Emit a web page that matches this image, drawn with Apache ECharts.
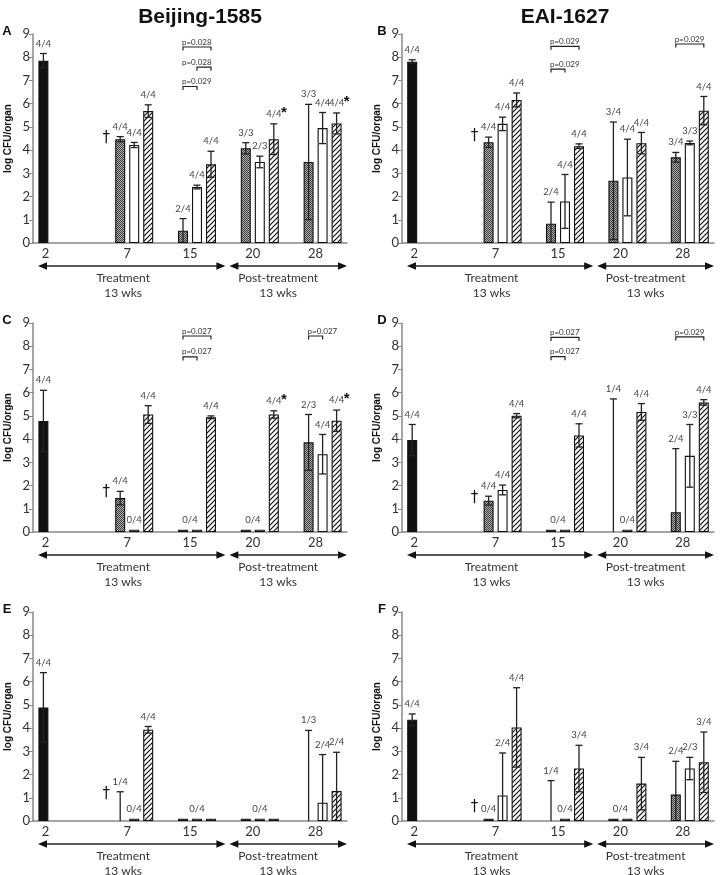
<!DOCTYPE html>
<html>
<head>
<meta charset="utf-8">
<script src="https://cdn.jsdelivr.net/npm/echarts@6/dist/echarts.min.js"></script>
<style>
  html, body { margin: 0; background: #fff; }
  #chart { width: 720px; height: 875px; }
</style>
</head>
<body>
<div id="chart"></div>
<script>
const weeks = ['2', '7', '15', '20', '28'];
const strainTitles = ['Beijing-1585', 'EAI-1627'];
const panelLetters = ['A', 'B', 'C', 'D', 'E', 'F'];
const groupNames = ['Pre-treatment', 'Regimen 1', 'Regimen 2', 'Regimen 3'];

// rows: black, cross-hatched, open, striped bars; columns follow weeks
// mean = bar height, top = upper end of the error bar
const meanA = [[7.85, null, null, null, null], [null, 4.47, 0.53, 4.08, 3.49], [null, 4.22, 2.41, 3.49, 4.95], [null, 5.68, 3.39, 4.47, 5.15]];
const topA  = [[8.16, null, null, null, null], [null, 4.58, 1.05, 4.32, 5.97], [null, 4.33, 2.49, 3.74, 5.62], [null, 5.95, 3.95, 5.13, 5.6]];
const fracA = [['4/4', '', '', '', ''], ['', '4/4', '2/4', '3/3', '3/3'], ['', '4/4', '4/4', '2/3', '4/4'], ['', '4/4', '4/4', '4/4', '4/4']];

const meanB = [[7.81, null, null, null, null], [null, 4.34, 0.83, 2.68, 3.69], [null, 5.13, 1.79, 2.82, 4.31], [null, 6.16, 4.17, 4.3, 5.7]];
const topB  = [[7.89, null, null, null, null], [null, 4.56, 1.76, 5.21, 3.9], [null, 5.42, 2.95, 4.47, 4.39], [null, 6.46, 4.27, 4.76, 6.31]];
const fracB = [['4/4', '', '', '', ''], ['', '4/4', '2/4', '3/4', '3/4'], ['', '4/4', '4/4', '4/4', '3/3'], ['', '4/4', '4/4', '4/4', '4/4']];

const meanC = [[4.78, null, null, null, null], [null, 1.46, 0.1, 0.1, 3.86], [null, 0.1, 0.1, 0.1, 3.35], [null, 5.06, 4.94, 5.06, 4.79]];
const topC  = [[6.1, null, null, null, null], [null, 1.75, null, null, 5.06], [null, null, null, null, 4.2], [null, 5.44, 5.0, 5.22, 5.25]];
const fracC = [['4/4', '', '', '', ''], ['', '4/4', '0/4', '0/4', '2/3'], ['', '0/4', '0/4', '0/4', '4/4'], ['', '4/4', '4/4', '4/4', '4/4']];

const meanD = [[3.96, null, null, null, null], [null, 1.35, 0.1, 0, 0.85], [null, 1.81, 0.1, 0.1, 3.28], [null, 5.01, 4.16, 5.17, 5.58]];
const topD  = [[4.63, null, null, null, null], [null, 1.54, null, 5.73, 3.59], [null, 2.02, null, null, 4.63], [null, 5.1, 4.66, 5.53, 5.7]];
const fracD = [['4/4', '', '', '', ''], ['', '4/4', '0/4', '1/4', '2/4'], ['', '4/4', '0/4', '0/4', '3/3'], ['', '4/4', '4/4', '4/4', '4/4']];

const meanE = [[4.89, null, null, null, null], [null, 0, 0.1, 0.1, 0], [null, 0.1, 0.1, 0.1, 0.79], [null, 3.93, 0.1, 0.1, 1.29]];
const topE  = [[6.39, null, null, null, null], [null, 1.26, null, null, 3.9], [null, null, null, null, 2.86], [null, 4.07, null, null, 2.96]];
const fracE = [['4/4', '', '', '', ''], ['', '1/4', '0/4', '0/4', '1/3'], ['', '0/4', '0/4', '0/4', '2/4'], ['', '4/4', '0/4', '0/4', '2/4']];

const meanF = [[4.36, null, null, null, null], [null, 0.1, 0, 0.1, 1.14], [null, 1.1, 0.1, 0.1, 2.26], [null, 4.03, 2.26, 1.61, 2.53]];
const topF  = [[4.61, null, null, null, null], [null, null, 1.74, null, 2.57], [null, 2.93, null, null, 2.74], [null, 5.74, 3.26, 2.74, 3.83]];
const fracF = [['4/4', '', '', '', ''], ['', '0/4', '1/4', '0/4', '2/4'], ['', '2/4', '0/4', '0/4', '2/3'], ['', '4/4', '3/4', '3/4', '3/4']];

// [week index, from bar, to bar, bracket height, text]
const bracketsA = [[2, 1, 3, 8.44, 'p=0.028'], [2, 2, 3, 7.57, 'p=0.028'], [2, 1, 2, 6.74, 'p=0.029']];
const bracketsB = [[2, 1, 3, 8.47, 'p=0.029'], [2, 1, 2, 7.49, 'p=0.029'], [4, 1, 3, 8.57, 'p=0.029']];
const bracketsC = [[2, 1, 3, 8.44, 'p=0.027'], [2, 1, 2, 7.54, 'p=0.027'], [4, 1, 2, 8.44, 'p=0.027']];
const bracketsD = [[2, 1, 3, 8.38, 'p=0.027'], [2, 1, 2, 7.55, 'p=0.027'], [4, 1, 3, 8.4, 'p=0.029']];

// asterisks: [week index, bar]
const starsA = [[3, 3], [4, 3]];
const starsC = [[3, 3], [4, 3]];

// dagger next to the week-7 cross-hatched bar, height per panel
const daggerY = [4.52, 4.6, 1.73, 1.45, 1.15, 0.6];

const panels = [
  { mean: meanA, top: topA, frac: fracA, br: bracketsA, stars: starsA },
  { mean: meanB, top: topB, frac: fracB, br: bracketsB, stars: [] },
  { mean: meanC, top: topC, frac: fracC, br: bracketsC, stars: starsC },
  { mean: meanD, top: topD, frac: fracD, br: bracketsD, stars: [] },
  { mean: meanE, top: topE, frac: fracE, br: [], stars: [] },
  { mean: meanF, top: topF, frac: fracF, br: [], stars: [] }
];

const OFFS = [-21, -7, 7, 21];
const colLeft = [33, 402], colWidth = [314, 312], rowTop = [34, 323, 612], gridH = 209;
const TXT = 'Lato';
const INK = '#222';

function hatchPattern() {
  const c = document.createElement('canvas');
  c.width = c.height = 5;
  const g = c.getContext('2d');
  g.fillStyle = '#fff';
  g.fillRect(0, 0, 5, 5);
  g.strokeStyle = '#111';
  g.lineWidth = 1.2;
  g.beginPath();
  g.moveTo(-1, 6); g.lineTo(6, -1);
  g.moveTo(-1, 1); g.lineTo(1, -1);
  g.moveTo(4, 6); g.lineTo(6, 4);
  g.stroke();
  return c;
}
function meshPattern() {
  const c = document.createElement('canvas');
  c.width = c.height = 2;
  const g = c.getContext('2d');
  g.fillStyle = '#b0b0b0';
  g.fillRect(0, 0, 2, 2);
  g.fillStyle = '#3c3c3c';
  g.fillRect(0, 0, 1, 1);
  g.fillRect(1, 1, 1, 1);
  return c;
}
const fills = ['#111', { image: meshPattern(), repeat: 'repeat' }, '#fff', { image: hatchPattern(), repeat: 'repeat' }];

function buildItems(p, pi) {
  const items = [];
  for (let s = 0; s < 4; s++) {
    for (let c = 0; c < 5; c++) {
      if (p.top[s][c] != null) items.push({ kind: 'err', c, s, mean: p.mean[s][c], top: p.top[s][c] });
    }
  }
  for (let c = 0; c < 5; c++) {
    let prevStub = null;
    for (let s = 0; s < 4; s++) {
      const t = p.frac[s][c];
      if (!t) { prevStub = null; continue; }
      const stub = p.top[s][c] == null && p.mean[s][c] != null && p.mean[s][c] <= 0.1;
      if (stub && prevStub && prevStub.text === t) { prevStub.ss.push(s); continue; }
      const lab = { kind: 'lab', c, ss: [s], text: t, v: p.top[s][c] != null ? p.top[s][c] : p.mean[s][c],
        star: p.stars.some(a => a[0] === c && a[1] === s) };
      items.push(lab);
      prevStub = stub ? lab : null;
    }
  }
  p.br.forEach(b => items.push({ kind: 'br', c: b[0], s1: b[1], s2: b[2], v: b[3], text: b[4] }));
  items.push({ kind: 'dag', c: 1, v: daggerY[pi] });
  items.push({ kind: 'decor', c: 0, v: 0 });
  return items;
}

function makeRender(items) {
  return function (params, api) {
    const it = items[params.dataIndex];
    const band = api.size([1, 0])[0];
    const cx = c => api.coord([c, 0])[0];
    const px = (c, s) => cx(c) + OFFS[s];
    const py = v => api.coord([0, v])[1];
    const ln = (x1, y1, x2, y2, w) => ({ type: 'line', shape: { x1, y1, x2, y2 }, style: { stroke: INK, lineWidth: w || 1.3 } });
    const tx = (x, y, text, o) => ({ type: 'text', x, y, style: Object.assign({ text, fill: '#333', fontFamily: TXT, fontSize: 12,
      align: 'center', textAlign: 'center', verticalAlign: 'middle', textVerticalAlign: 'middle' }, o || {}) });
    const ch = [];
    if (it.kind === 'err') {
      const x = px(it.c, it.s), yT = py(it.top);
      const lo = Math.max(0, 2 * it.mean - it.top), yB = py(lo);
      ch.push(ln(x, yB, x, yT), ln(x - 3.5, yT, x + 3.5, yT));
      if (it.mean > 0 && lo > 0.05) ch.push(ln(x - 3.5, yB, x + 3.5, yB));
    } else if (it.kind === 'lab') {
      const x = it.ss.reduce((a, s) => a + px(it.c, s), 0) / it.ss.length;
      const y = py(it.v) - 10;
      ch.push(tx(x, y, it.text, { fontSize: 9.5, fill: '#444' }));
      if (it.star) ch.push(tx(x + 10, y - 1, '*', { fontSize: 15, fontWeight: 'bold', fill: '#111', fontFamily: 'Liberation Sans' }));
    } else if (it.kind === 'br') {
      const x1 = px(it.c, it.s1), x2 = px(it.c, it.s2), y = py(it.v);
      ch.push({ type: 'polyline', shape: { points: [[x1, y + 3.5], [x1, y], [x2, y], [x2, y + 3.5]] }, style: { stroke: INK, lineWidth: 1.2, fill: null } });
      ch.push(tx(px(it.c, 1) - 1, y - 1, it.text, { fontSize: 8, fill: '#333', align: 'left', textAlign: 'left', verticalAlign: 'bottom', textVerticalAlign: 'bottom' }));
    } else if (it.kind === 'dag') {
      ch.push(tx(px(1, 1) - 14, py(it.v), '\u2020', { fontSize: 15, fill: '#111', fontFamily: 'DejaVu Sans' }));
    } else {
      const y0 = py(0), ya = y0 + 23;
      const xL = cx(0) - band / 2, xR = cx(4) + band / 2, xM = cx(2) + band / 2;
      const arrow = (a, b) => [
        ln(a + 6, ya, b - 6, ya, 1.6),
        { type: 'polygon', shape: { points: [[a, ya], [a + 9, ya - 3.8], [a + 9, ya + 3.8]] }, style: { fill: '#111' } },
        { type: 'polygon', shape: { points: [[b, ya], [b - 9, ya - 3.8], [b - 9, ya + 3.8]] }, style: { fill: '#111' } }
      ];
      ch.push(...arrow(xL + 5, xM + 4), ...arrow(xM + 8, xR));
      ch.push(tx(cx(1) - 4, y0 + 35, 'Treatment'), tx(cx(1) - 4, y0 + 50, '13 wks'));
      ch.push(tx(cx(3) + band / 2 - 6, y0 + 35, 'Post-treatment'), tx(cx(3) + band / 2 - 6, y0 + 50, '13 wks'));
    }
    return { type: 'group', children: ch };
  };
}

const grid = [], xAxis = [], yAxis = [], series = [];
panels.forEach((p, i) => {
  grid.push({ left: colLeft[i % 2], top: rowTop[Math.floor(i / 2)], width: colWidth[i % 2], height: gridH });
  xAxis.push({
    type: 'category', gridIndex: i, data: weeks,
    axisLine: { lineStyle: { color: '#888', width: 1.5 } },
    axisTick: { show: false },
    axisLabel: {
      interval: 0, margin: 4, fontSize: 13, color: '#333', fontFamily: TXT,
      formatter: v => v === '2' ? '{s|2}' : v,
      rich: { s: { padding: [0, 38, 0, 0], fontSize: 13, color: '#333', fontFamily: TXT } }
    }
  });
  yAxis.push({
    type: 'value', gridIndex: i, min: 0, max: 9, interval: 1,
    name: 'log CFU/organ', nameLocation: 'middle', nameGap: 20,
    nameTextStyle: { fontSize: 10, fontWeight: 'bold', color: '#111', fontFamily: 'Liberation Sans' },
    axisLine: { show: true, lineStyle: { color: '#888', width: 1.5 } },
    axisTick: { show: true, length: 4, lineStyle: { color: '#888' } },
    axisLabel: { fontSize: 13, color: '#333', margin: 3, fontFamily: TXT },
    splitLine: { show: false }
  });
  for (let s = 0; s < 4; s++) {
    series.push({
      type: 'bar', name: groupNames[s], xAxisIndex: i, yAxisIndex: i,
      barWidth: 10, barGap: '40%',
      data: p.mean[s].map(v => (v != null && v > 0) ? v : '-'),
      itemStyle: { color: fills[s], borderColor: '#111', borderWidth: 1.1 },
      silent: true
    });
  }
  const items = buildItems(p, i);
  series.push({
    type: 'custom', xAxisIndex: i, yAxisIndex: i, clip: false, z: 5, silent: true,
    data: items.map(it => [it.c, 0]),
    renderItem: makeRender(items)
  });
});

const graphic = [];
strainTitles.forEach((t, k) => {
  graphic.push({ type: 'text', x: k === 0 ? 200 : 565, y: 17,
    style: { text: t, fontSize: 21, fontWeight: 'bold', fontFamily: 'Liberation Sans', fill: '#111',
      align: 'center', textAlign: 'center', verticalAlign: 'middle', textVerticalAlign: 'middle' } });
});
panelLetters.forEach((t, i) => {
  graphic.push({ type: 'text', x: i % 2 ? 382 : 7, y: rowTop[Math.floor(i / 2)] - 3,
    style: { text: t, fontSize: 13, fontWeight: 'bold', fontFamily: 'Liberation Sans', fill: '#111',
      align: 'center', textAlign: 'center', verticalAlign: 'middle', textVerticalAlign: 'middle' } });
});

const chart = echarts.init(document.getElementById('chart'));
chart.setOption({
  animation: false,
  backgroundColor: '#fff',
  grid, xAxis, yAxis, series, graphic
});
</script>
</body>
</html>
